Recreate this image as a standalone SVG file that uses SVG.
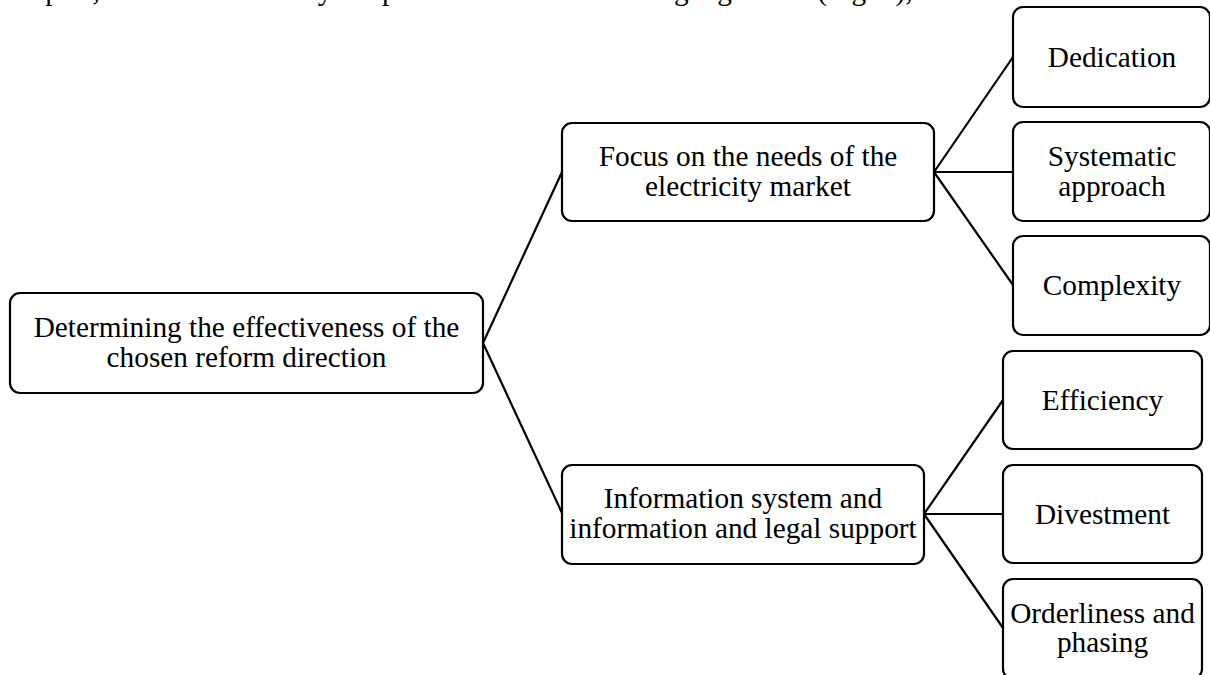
<svg xmlns="http://www.w3.org/2000/svg" width="1210" height="675" viewBox="0 0 1210 675">
<style>
  .box { fill: #ffffff; stroke: #000000; stroke-width: 2.2; }
  .lbl { font-family: "Liberation Serif", "Times New Roman", serif; font-size: 29.3px; fill: #000000; text-anchor: middle; }
  .top { font-family: "Liberation Serif", "Times New Roman", serif; font-size: 29.3px; fill: #000000; }
  .conn line { stroke: #000000; stroke-width: 2.2; }
</style>
<rect width="1210" height="675" fill="#ffffff"/>
<text class="top" y="-0.5"><tspan x="-23">principles,</tspan><tspan x="130">in our</tspan><tspan x="269">study are</tspan><tspan x="382">presented in the following algorithm (Fig. 1),</tspan></text>
<g id="connectors" class="conn">
  <line x1="483" y1="343" x2="562" y2="172"/>
  <line x1="483" y1="343" x2="562" y2="513"/>
  <line x1="934" y1="172" x2="1013" y2="57"/>
  <line x1="934" y1="172" x2="1013" y2="172"/>
  <line x1="934" y1="172" x2="1013" y2="285"/>
  <line x1="924" y1="514" x2="1003" y2="400"/>
  <line x1="924" y1="514" x2="1003" y2="514"/>
  <line x1="924" y1="514" x2="1003" y2="628"/>
</g>
<g id="root">
  <rect class="box" x="10" y="293" width="473" height="100" rx="10"/>
  <text class="lbl" x="246.5" y="337">Determining the effectiveness of the</text>
  <text class="lbl" x="246.5" y="367">chosen reform direction</text>
</g>
<g id="focus">
  <rect class="box" x="562" y="123" width="372" height="98" rx="10"/>
  <text class="lbl" x="748" y="166">Focus on the needs of the</text>
  <text class="lbl" x="748" y="196">electricity market</text>
</g>
<g id="info">
  <rect class="box" x="562" y="465" width="362" height="99" rx="10"/>
  <text class="lbl" x="743" y="508">Information system and</text>
  <text class="lbl" x="743" y="538">information and legal support</text>
</g>
<g id="dedication">
  <rect class="box" x="1013" y="7" width="197" height="100" rx="10"/>
  <text class="lbl" x="1112" y="67">Dedication</text>
</g>
<g id="systematic">
  <rect class="box" x="1013" y="122" width="197" height="99" rx="10"/>
  <text class="lbl" x="1112" y="166">Systematic</text>
  <text class="lbl" x="1112" y="196">approach</text>
</g>
<g id="complexity">
  <rect class="box" x="1013" y="236" width="197" height="99" rx="10"/>
  <text class="lbl" x="1112" y="295">Complexity</text>
</g>
<g id="efficiency">
  <rect class="box" x="1003" y="351" width="199" height="98" rx="10"/>
  <text class="lbl" x="1102.5" y="410">Efficiency</text>
</g>
<g id="divestment">
  <rect class="box" x="1003" y="465" width="199" height="98" rx="10"/>
  <text class="lbl" x="1102.5" y="524">Divestment</text>
</g>
<g id="orderliness">
  <rect class="box" x="1003" y="579" width="199" height="100" rx="10"/>
  <text class="lbl" x="1102.5" y="623">Orderliness and</text>
  <text class="lbl" x="1102.5" y="652">phasing</text>
</g>
</svg>
